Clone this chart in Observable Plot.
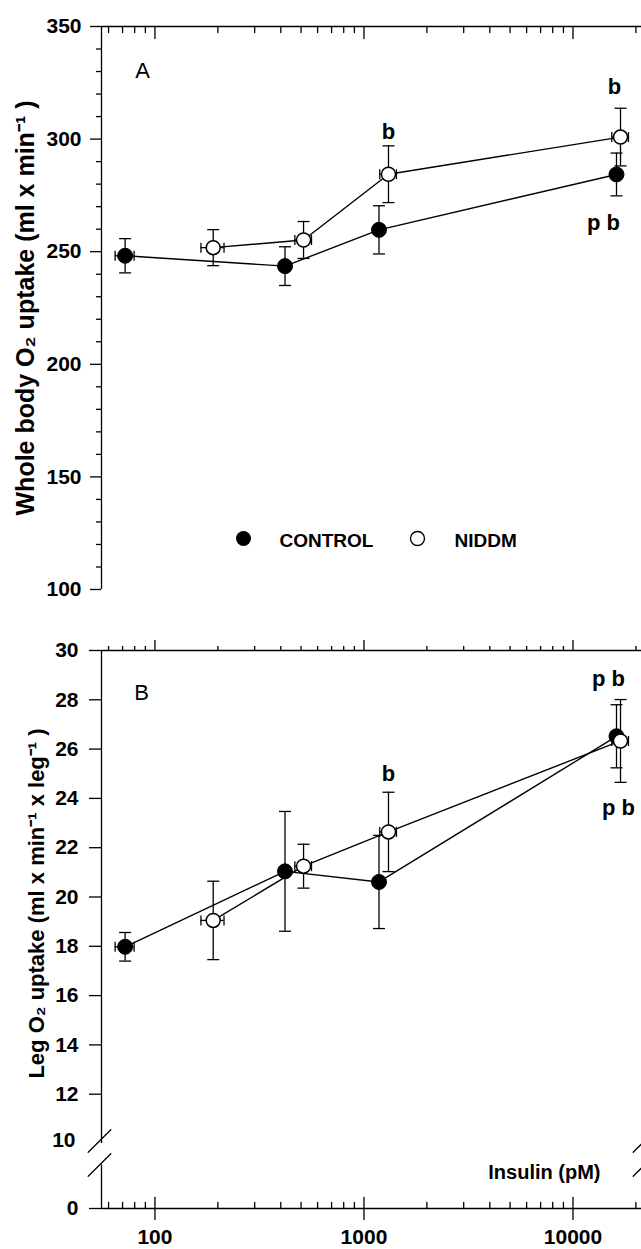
<!DOCTYPE html>
<html>
<head>
<meta charset="utf-8">
<script src="https://cdn.jsdelivr.net/npm/d3@7"></script>
<script src="https://cdn.jsdelivr.net/npm/@observablehq/plot@0.6"></script>
<style>
html, body { margin: 0; padding: 0; background: #fff; }
#chart { width: 641px; }
#chart svg { display: block; }
</style>
</head>
<body>
<div id="chart"></div>
<script>
// ---------- data ----------
const series = ["CONTROL", "NIDDM"];

// insulin concentration (pM), mean and SEM
const insulinControl = [72, 419, 1180, 16150];
const insulinControlSem = [7.5, 25, 70, 900];
const insulinNiddm = [190, 514, 1310, 16880];
const insulinNiddmSem = [24, 47, 120, 1545];

// Panel A: whole body O2 uptake (ml x min-1)
const wholeControl = [248.2, 243.6, 259.7, 284.3];
const wholeControlSem = [7.6, 8.6, 10.7, 9.5];
const wholeNiddm = [251.8, 255.2, 284.4, 300.9];
const wholeNiddmSem = [8.0, 8.2, 12.6, 12.8];

// Panel B: leg O2 uptake (ml x min-1 x leg-1)
const legControl = [17.98, 21.04, 20.61, 26.52];
const legControlSem = [0.58, 2.43, 1.89, 1.28];
const legNiddm = [19.05, 21.25, 22.64, 26.33];
const legNiddmSem = [1.59, 0.89, 1.61, 1.68];

// significance annotations (data coordinates)
const annotAText = ["b", "b", "p b"];
const annotAX = [1310, 15800, 13990];
const annotAY = [303.1, 323.0, 262.8];
const annotBText = ["b", "p b", "p b"];
const annotBX = [1310, 14790, 16510];
const annotBY = [25.0, 28.86, 23.63];

// axes
const xDomain = [55.5, 21270];
const xMajorTicks = [100, 1000, 10000];
const xMinorTicks = [60, 70, 80, 90, 200, 300, 400, 500, 600, 700, 800, 900,
  2000, 3000, 4000, 5000, 6000, 7000, 8000, 9000, 20000];
const yMajorA = [100, 150, 200, 250, 300, 350];
const yMinorA = d3.range(110, 350, 10).filter(v => v % 50 !== 0);
const yTicksB = [0, 12, 14, 16, 18, 20, 22, 24, 26, 28, 30];
const yBreakLabelB = [10];
const yBreakLowB = 6.7;

const titleA = "Whole body O\u2082 uptake (ml x min\u207B\u00B9 )";
const titleB = "Leg O\u2082 uptake (ml x min\u207B\u00B9 x leg\u207B\u00B9 )";
const xTitle = "Insulin (pM)";

// ---------- helpers ----------
function makeRows(group, xs, xsem, ys, ysem) {
  return xs.map((x, i) => ({group, x, xs: xsem[i], y: ys[i], ys: ysem[i]}));
}
const hCap = {draw(ctx) { ctx.moveTo(-6, 0); ctx.lineTo(6, 0); }};
const vCap = {draw(ctx) { ctx.moveTo(0, -5); ctx.lineTo(0, 5); }};
const tickShape = {draw(ctx, l) { ctx.moveTo(0, 0); ctx.lineTo(0, -l); }};
const SW = 1.3;
const font = "'Liberation Sans', Arial, Helvetica, sans-serif";

function dataMarks(ctrl, nid) {
  const all = ctrl.concat(nid);
  return [
    Plot.line(all, {x: "x", y: "y", z: "group", stroke: "black", strokeWidth: 1.4}),
    Plot.ruleX(all, {x: "x", y1: d => d.y - d.ys, y2: d => d.y + d.ys, stroke: "black", strokeWidth: SW}),
    Plot.dot(all, {x: "x", y: d => d.y + d.ys, symbol: hCap, fill: "none", stroke: "black", strokeWidth: SW}),
    Plot.dot(all, {x: "x", y: d => d.y - d.ys, symbol: hCap, fill: "none", stroke: "black", strokeWidth: SW}),
    Plot.ruleY(all, {y: "y", x1: d => d.x - d.xs, x2: d => d.x + d.xs, stroke: "black", strokeWidth: SW}),
    Plot.dot(all, {x: d => d.x - d.xs, y: "y", symbol: vCap, fill: "none", stroke: "black", strokeWidth: SW}),
    Plot.dot(all, {x: d => d.x + d.xs, y: "y", symbol: vCap, fill: "none", stroke: "black", strokeWidth: SW}),
    Plot.dot(ctrl, {x: "x", y: "y", r: 7.5, fill: "black", stroke: "black", strokeWidth: 1}),
    Plot.dot(nid, {x: "x", y: "y", r: 7, fill: "white", stroke: "black", strokeWidth: 1.5})
  ];
}

// ---------- Panel A ----------
const ctrlA = makeRows(series[0], insulinControl, insulinControlSem, wholeControl, wholeControlSem);
const nidA = makeRows(series[1], insulinNiddm, insulinNiddmSem, wholeNiddm, wholeNiddmSem);
const annA = annotAText.map((t, i) => ({t, x: annotAX[i], y: annotAY[i]}));

const plotA = Plot.plot({
  width: 641, height: 620,
  marginTop: 26, marginBottom: 31, marginLeft: 101, marginRight: 0,
  style: {fontFamily: font, fontSize: "21px", fontWeight: "bold", color: "black", background: "white"},
  x: {type: "log", domain: xDomain, axis: null, label: null},
  y: {domain: [100, 350], axis: null, label: null},
  marks: [
    Plot.ruleY([350], {stroke: "black", strokeWidth: SW}),
    Plot.ruleX([xDomain[0]], {stroke: "black", strokeWidth: SW}),
    Plot.axisY({ticks: yMajorA, tickSize: 11, tickPadding: 9, tickFormat: d => String(d), label: null, strokeWidth: SW, fontSize: 21, fontWeight: "bold"}),
    Plot.axisY({ticks: yMinorA, tickSize: 5, tickFormat: () => "", label: null, strokeWidth: SW}),
    Plot.vector(xMajorTicks, {x: d => d, frameAnchor: "top", rotate: 180, length: 12, anchor: "start", shape: tickShape, stroke: "black", strokeWidth: SW}),
    Plot.vector(xMinorTicks, {x: d => d, frameAnchor: "top", rotate: 180, length: 6, anchor: "start", shape: tickShape, stroke: "black", strokeWidth: SW}),
    ...dataMarks(ctrlA, nidA),
    Plot.text(annA, {x: "x", y: "y", text: "t", fontSize: 22, fontWeight: "bold", textAnchor: "middle", lineAnchor: "middle"}),
    // legend
    Plot.dot([series[0]], {frameAnchor: "bottom-left", dx: 142, dy: -51, r: 7.5, fill: "black"}),
    Plot.text([series[0]], {text: d => d, frameAnchor: "bottom-left", dx: 178, dy: -49, textAnchor: "start", lineAnchor: "middle", fontSize: 19, fontWeight: "bold"}),
    Plot.dot([series[1]], {frameAnchor: "bottom-left", dx: 316, dy: -51, r: 7, fill: "white", stroke: "black", strokeWidth: 1.4}),
    Plot.text([series[1]], {text: d => d, frameAnchor: "bottom-left", dx: 353, dy: -49, textAnchor: "start", lineAnchor: "middle", fontSize: 19, fontWeight: "bold"}),
    // panel letter
    Plot.text(["A"], {text: d => d, frameAnchor: "top-left", dx: 41, dy: 44, textAnchor: "middle", lineAnchor: "middle", fontSize: 22, fontWeight: "normal"}),
    // y title
    Plot.text([titleA], {text: d => d, frameAnchor: "left", rotate: -90, dx: -68, textAnchor: "middle", lineAnchor: "bottom", fontSize: 25, fontWeight: "bold"})
  ]
});

// ---------- Panel B ----------
const ctrlB = makeRows(series[0], insulinControl, insulinControlSem, legControl, legControlSem);
const nidB = makeRows(series[1], insulinNiddm, insulinNiddmSem, legNiddm, legNiddmSem);
const annB = annotBText.map((t, i) => ({t, x: annotBX[i], y: annotBY[i]}));

const plotB = Plot.plot({
  width: 641, height: 629,
  marginTop: 30, marginBottom: 41, marginLeft: 101, marginRight: 0,
  style: {fontFamily: font, fontSize: "21px", fontWeight: "bold", color: "black", background: "white"},
  x: {type: "log", domain: xDomain, axis: null, label: null},
  y: {type: "linear", domain: [0, 10, 30], range: [588, 523, 30], axis: null, label: null},
  marks: [
    Plot.ruleY([30], {stroke: "black", strokeWidth: SW}),
    Plot.ruleY([0], {stroke: "black", strokeWidth: SW}),
    Plot.ruleX([xDomain[0]], {y1: 10, y2: 30, stroke: "black", strokeWidth: SW}),
    Plot.ruleX([xDomain[0]], {y1: 0, y2: yBreakLowB, stroke: "black", strokeWidth: SW}),
    // axis break slashes
    Plot.vector(yBreakLabelB, {y: d => d, frameAnchor: "left", dx: -2, dy: -2.5, rotate: 45, length: 32, anchor: "middle", shape: tickShape, stroke: "black", strokeWidth: SW}),
    Plot.vector(yBreakLabelB, {y: d => d, frameAnchor: "left", dx: -2, dy: 21.5, rotate: 45, length: 32, anchor: "middle", shape: tickShape, stroke: "black", strokeWidth: SW}),
    Plot.vector(yBreakLabelB, {y: d => d, frameAnchor: "right", dx: 3, dy: -2.5, rotate: 45, length: 32, anchor: "middle", shape: tickShape, stroke: "black", strokeWidth: SW}),
    Plot.vector(yBreakLabelB, {y: d => d, frameAnchor: "right", dx: 3, dy: 21.5, rotate: 45, length: 32, anchor: "middle", shape: tickShape, stroke: "black", strokeWidth: SW}),
    Plot.axisY({ticks: yTicksB, tickSize: 12, tickPadding: 11, tickFormat: d => String(d), label: null, strokeWidth: SW, fontSize: 21, fontWeight: "bold"}),
    Plot.axisY({ticks: yBreakLabelB, tickSize: 0, tickPadding: 26, dy: -3, tickFormat: d => String(d), label: null, fontSize: 21, fontWeight: "bold"}),
    // top axis (outward ticks)
    Plot.axisX({anchor: "top", ticks: xMajorTicks, tickSize: 11, tickFormat: () => "", label: null, strokeWidth: SW}),
    Plot.axisX({anchor: "top", ticks: xMinorTicks, tickSize: 5, tickFormat: () => "", label: null, strokeWidth: SW}),
    // bottom axis
    Plot.axisX({anchor: "bottom", ticks: xMajorTicks, tickSize: 12, tickPadding: 9, tickFormat: d => String(d), label: null, strokeWidth: SW, fontSize: 21, fontWeight: "bold"}),
    Plot.vector(xMajorTicks, {x: d => d, frameAnchor: "bottom", rotate: 0, length: 11, anchor: "start", shape: tickShape, stroke: "black", strokeWidth: SW}),
    Plot.vector(xMinorTicks, {x: d => d, frameAnchor: "bottom", rotate: 0, length: 6, anchor: "start", shape: tickShape, stroke: "black", strokeWidth: SW}),
    Plot.text([xTitle], {text: d => d, frameAnchor: "bottom-right", dx: -41, dy: -36, textAnchor: "end", lineAnchor: "middle", fontSize: 20, fontWeight: "bold"}),
    ...dataMarks(ctrlB, nidB),
    Plot.text(annB, {x: "x", y: "y", text: "t", fontSize: 22, fontWeight: "bold", textAnchor: "middle", lineAnchor: "middle"}),
    Plot.text(["B"], {text: d => d, frameAnchor: "top-left", dx: 40, dy: 42, textAnchor: "middle", lineAnchor: "middle", fontSize: 22, fontWeight: "normal"}),
    Plot.text([titleB], {text: d => d, frameAnchor: "left", rotate: -90, dx: -58, dy: -26, textAnchor: "middle", lineAnchor: "bottom", fontSize: 22, fontWeight: "bold"})
  ]
});

const chart = document.getElementById("chart");
chart.appendChild(plotA);
chart.appendChild(plotB);
</script>
</body>
</html>
